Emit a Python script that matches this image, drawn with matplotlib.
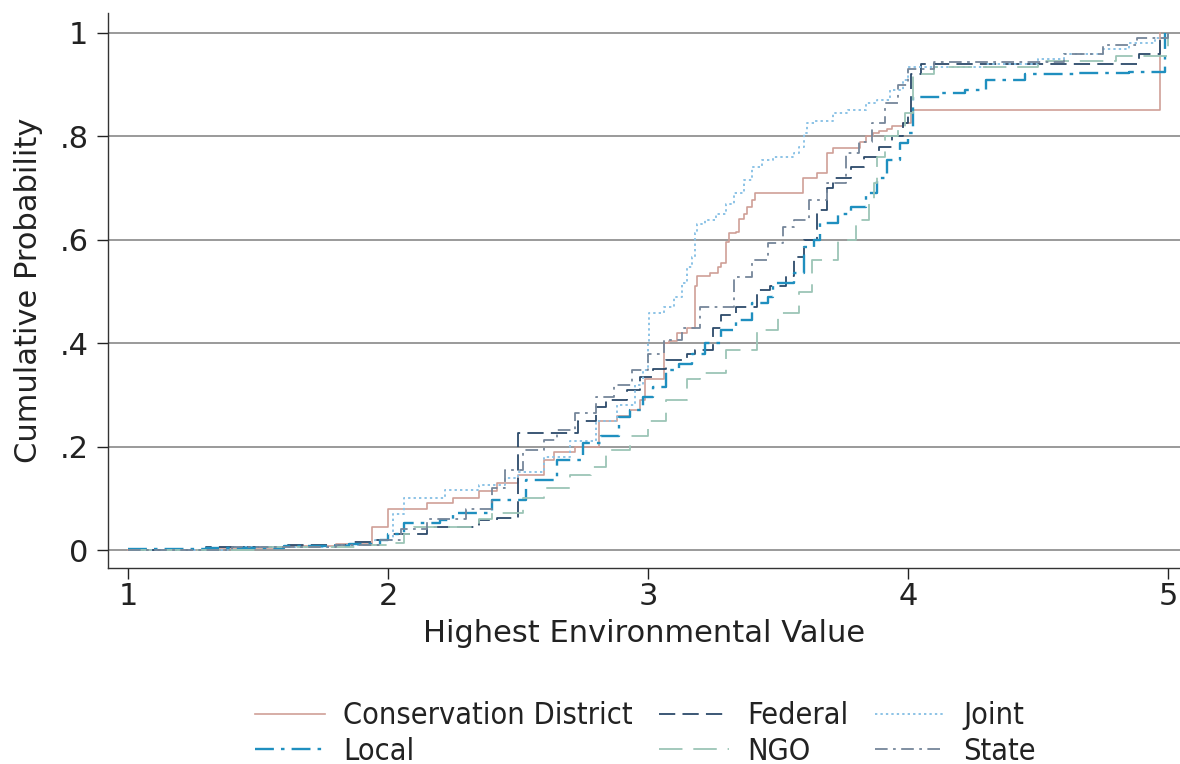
import matplotlib
matplotlib.use("Agg")
import matplotlib.pyplot as plt

# ---- data ----
cd_x = [1.0, 1.3, 1.6, 1.8, 1.94, 2.0, 2.15, 2.25, 2.35, 2.42, 2.5, 2.6, 2.64, 2.72, 2.81, 2.88,
        2.93, 2.97, 2.99, 3.06, 3.08, 3.11, 3.15, 3.18, 3.19, 3.24, 3.27, 3.28, 3.30, 3.31, 3.34,
        3.35, 3.37, 3.38, 3.40, 3.41, 3.596, 3.65, 3.69, 3.71, 3.815, 3.84, 3.865, 3.89, 3.92,
        3.94, 3.98, 4.01, 4.015, 4.97]
cd_y = [0.0, 0.004, 0.008, 0.012, 0.045, 0.079, 0.09, 0.10, 0.115, 0.13, 0.145, 0.174, 0.19, 0.2,
        0.25, 0.26, 0.27, 0.29, 0.33, 0.40, 0.405, 0.42, 0.43, 0.51, 0.53, 0.535, 0.547, 0.555,
        0.595, 0.613, 0.615, 0.64, 0.65, 0.664, 0.677, 0.69, 0.72, 0.73, 0.767, 0.777, 0.79, 0.80,
        0.806, 0.81, 0.815, 0.82, 0.825, 0.845, 0.851, 1.0]

fed_x = [1.0, 1.3, 1.6, 1.85, 1.95, 2.0, 2.15, 2.35, 2.42, 2.5, 2.73, 2.8, 2.84, 2.92, 2.97, 3.02,
         3.07, 3.15, 3.18, 3.25, 3.28, 3.34, 3.42, 3.47, 3.53, 3.56, 3.6, 3.65, 3.69, 3.71, 3.78,
         3.83, 3.89, 3.94, 3.98, 4.0, 4.01, 4.05, 4.89, 4.97]
fed_y = [0.0, 0.005, 0.01, 0.015, 0.02, 0.03, 0.045, 0.058, 0.062, 0.226, 0.25, 0.277, 0.29, 0.31,
         0.335, 0.35, 0.367, 0.38, 0.387, 0.43, 0.455, 0.47, 0.503, 0.51, 0.53, 0.567, 0.6, 0.657,
         0.70, 0.72, 0.74, 0.76, 0.78, 0.80, 0.825, 0.845, 0.92, 0.94, 0.96, 1.0]

joint_x = [1.0, 1.4, 1.8, 1.95, 2.02, 2.06, 2.22, 2.35, 2.45, 2.5, 2.6, 2.7, 2.8, 2.88, 2.95, 2.98,
           3.0, 3.005, 3.06, 3.1, 3.13, 3.15, 3.17, 3.18, 3.19, 3.22, 3.26, 3.3, 3.33, 3.37, 3.4,
           3.44, 3.48, 3.56, 3.58, 3.6, 3.61, 3.64, 3.71, 3.77, 3.84, 3.88, 3.93, 3.98, 4.0, 4.3,
           4.5, 4.6, 4.75, 4.85, 4.95, 5.0]
joint_y = [0.0, 0.005, 0.01, 0.02, 0.07, 0.1, 0.116, 0.125, 0.14, 0.15, 0.18, 0.21, 0.25, 0.28,
           0.32, 0.348, 0.40, 0.458, 0.47, 0.49, 0.516, 0.547, 0.567, 0.613, 0.63, 0.638, 0.65,
           0.67, 0.69, 0.716, 0.74, 0.754, 0.76, 0.767, 0.78, 0.806, 0.826, 0.83, 0.845, 0.851,
           0.865, 0.87, 0.89, 0.91, 0.935, 0.94, 0.95, 0.96, 0.97, 0.98, 0.99, 1.0]

local_x = [1.0, 1.3, 1.6, 1.85, 1.97, 2.0, 2.06, 2.2, 2.25, 2.4, 2.53, 2.65, 2.75, 2.82, 2.89, 2.93,
           2.98, 3.02, 3.07, 3.12, 3.17, 3.22, 3.28, 3.34, 3.4, 3.46, 3.48, 3.56, 3.6, 3.64, 3.66,
           3.73, 3.78, 3.84, 3.88, 3.92, 3.97, 4.0, 4.02, 4.13, 4.22, 4.3, 4.45, 4.65, 4.85, 4.99]
local_y = [0.002, 0.004, 0.008, 0.012, 0.02, 0.03, 0.052, 0.058, 0.072, 0.097, 0.135, 0.174, 0.207,
           0.22, 0.257, 0.27, 0.296, 0.315, 0.348, 0.36, 0.38, 0.40, 0.425, 0.445, 0.478, 0.49,
           0.516, 0.536, 0.586, 0.60, 0.632, 0.65, 0.664, 0.69, 0.72, 0.754, 0.787, 0.806, 0.876,
           0.884, 0.89, 0.909, 0.92, 0.922, 0.925, 1.0]

ngo_x = [1.0, 1.5, 1.9, 2.0, 2.06, 2.1, 2.35, 2.4, 2.52, 2.6, 2.7, 2.78, 2.84, 2.93, 3.0, 3.07,
         3.15, 3.2, 3.3, 3.42, 3.5, 3.58, 3.63, 3.73, 3.8, 3.85, 3.87, 3.88, 3.91, 3.96, 3.99,
         4.02, 4.1, 4.5, 4.8, 5.0]
ngo_y = [0.0, 0.005, 0.01, 0.013, 0.03, 0.045, 0.06, 0.072, 0.1, 0.12, 0.145, 0.16, 0.193, 0.22,
         0.25, 0.29, 0.33, 0.342, 0.387, 0.425, 0.458, 0.50, 0.56, 0.60, 0.638, 0.677, 0.71, 0.76,
         0.80, 0.818, 0.845, 0.92, 0.935, 0.945, 0.955, 1.0]

state_x = [1.0, 1.4, 1.8, 1.97, 2.05, 2.15, 2.3, 2.4, 2.45, 2.52, 2.6, 2.65, 2.72, 2.8, 2.87, 2.94,
           3.0, 3.06, 3.13, 3.2, 3.33, 3.4, 3.46, 3.52, 3.56, 3.62, 3.69, 3.76, 3.81, 3.86, 3.91,
           3.96, 4.0, 4.1, 4.6, 4.75, 4.88, 5.0]
state_y = [0.0, 0.005, 0.01, 0.02, 0.04, 0.06, 0.08, 0.12, 0.155, 0.193, 0.213, 0.232, 0.265,
           0.296, 0.32, 0.348, 0.38, 0.406, 0.43, 0.47, 0.528, 0.56, 0.594, 0.625, 0.638, 0.677,
           0.71, 0.767, 0.79, 0.826, 0.865, 0.9, 0.93, 0.944, 0.96, 0.977, 0.99, 1.0]

labels = ["Conservation District", "Federal", "Joint", "Local", "NGO", "State"]
x_ticks = [1, 2, 3, 4, 5]
y_ticks = [0, 0.2, 0.4, 0.6, 0.8, 1.0]
y_ticklabels = ["0", ".2", ".4", ".6", ".8", "1"]

# ---- figure ----
FS = 22
fig = plt.figure(figsize=(11.8, 7.64), dpi=100)
ax = fig.add_axes([108 / 1180, 1 - 568 / 764, 1 - 108 / 1180, (568 - 13) / 764])

styles = {
    "Conservation District": dict(color="#cf9f97", ls="-", lw=1.2),
    "Federal": dict(color="#2c4a6a", ls=(0, (9, 4)), lw=1.3),
    "Joint": dict(color="#8cc3e6", ls=(0, (1.2, 1.6)), lw=1.4),
    "Local": dict(color="#1f8fbf", ls=(0, (8, 3, 1.5, 3)), lw=1.7),
    "NGO": dict(color="#9cc5b6", ls=(0, (13, 6)), lw=1.3),
    "State": dict(color="#75869a", ls=(0, (7, 3, 1.5, 3)), lw=1.3),
}
data = {
    "Conservation District": (cd_x, cd_y),
    "Federal": (fed_x, fed_y),
    "Joint": (joint_x, joint_y),
    "Local": (local_x, local_y),
    "NGO": (ngo_x, ngo_y),
    "State": (state_x, state_y),
}

for yt in y_ticks:
    ax.axhline(yt, color="#9a9a9a", lw=1.4, zorder=0)

handles = {}
for lab in labels:
    xs, ys = data[lab]
    st = styles[lab]
    h, = ax.step(xs, ys, where="post", color=st["color"], linestyle=st["ls"],
                 linewidth=st["lw"], label=lab)
    handles[lab] = h

ax.set_xlim(1 + (108 - 128) / 260, 1 + (1180 - 128) / 260)
ax.set_ylim((550 - 568) / 517, (550 - 13) / 517)
ax.set_xticks(x_ticks)
ax.set_xticklabels([str(t) for t in x_ticks])
ax.set_yticks(y_ticks)
ax.set_yticklabels(y_ticklabels)
ax.tick_params(axis="both", direction="out", length=8, width=1.0, labelsize=FS,
               colors="#222222")
ax.tick_params(axis="x", pad=2)
ax.tick_params(axis="y", pad=6)
for side in ["top", "right"]:
    ax.spines[side].set_visible(False)
for side in ["left", "bottom"]:
    ax.spines[side].set_color("#333333")
    ax.spines[side].set_linewidth(1.0)

ax.set_xlabel("Highest Environmental Value", fontsize=FS, color="#222222", labelpad=6)
ax.set_ylabel("Cumulative Probability", fontsize=FS, color="#222222", labelpad=12)

order = ["Conservation District", "Local", "Federal", "NGO", "Joint", "State"]
leg = fig.legend([handles[k] for k in order], order, loc="upper center",
                 bbox_to_anchor=(0.547, 1 - 680 / 764), ncol=3, frameon=False,
                 prop=dict(size=FS, stretch="condensed"), handlelength=2.3,
                 columnspacing=0.85, handletextpad=0.6, labelspacing=0.22,
                 borderpad=0.2)
for t in leg.get_texts():
    t.set_color("#222222")

fig.savefig("out.png", dpi=100)
